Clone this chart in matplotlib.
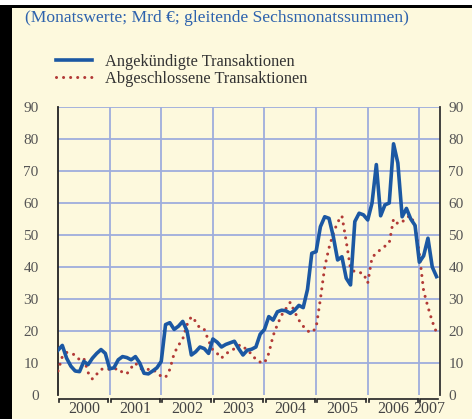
import matplotlib
matplotlib.use("Agg")
import matplotlib.pyplot as plt
import matplotlib.transforms as mtransforms
from matplotlib.patches import Rectangle
import numpy as np

# ---- data (monthly, Jan 2000 .. May 2007) ----
start_year = 2000
announced = [14, 15.5, 11.5, 9, 7.5, 7.3, 10.5, 9.5, 11.5, 13, 14.2, 13,
             8.2, 8.5, 11, 12, 11.7, 11, 12, 10, 6.8, 6.6, 7.5, 8.5,
             10.5, 22, 22.6, 20.5, 21.5, 23, 20, 12.5, 13.5, 15, 14.5, 13,
             17.5, 16.5, 15, 15.8, 16.3, 16.8, 14.5, 12.5, 14, 14.3, 15, 19,
             20.5, 24.5, 23.4, 26, 26.5, 26.3, 25.5, 26.5, 28, 27.3, 33, 44.3,
             44.8, 52.6, 55.7, 55.2, 49.5, 42.2, 43.2, 36.5, 34.4, 54.2, 56.8, 56.3,
             54.7, 60, 72, 56, 59.4, 60, 78.5, 72.5, 55.7, 58.3, 55, 53,
             41.5, 43.5, 49, 40, 37]
completed = [7.5, 12, 13.3, 13, 12.5, 11, 11.5, 7, 5, 6.5, 8, 8.3,
             8, 8, 8.3, 7, 6.6, 8.5, 10, 8.3, 8, 8, 8, 7,
             5.8, 5.5, 8, 13, 15.5, 17.5, 22, 24.5, 23, 20.8, 20.5, 17,
             14, 13, 11.5, 13, 13.5, 14.5, 15.5, 15.5, 13.6, 13, 11, 10.3,
             10, 13, 18.5, 22, 25, 27, 29, 26, 23.4, 21.5, 20, 19.5,
             21, 30, 40, 46, 50.5, 54, 56, 48, 39.5, 38.5, 38.3, 38,
             35, 43, 44.3, 45.5, 46.5, 47.5, 55, 53.5, 54, 55.5, 56, 53,
             44, 32.5, 27.5, 23, 19.5]
years = [2000, 2001, 2002, 2003, 2004, 2005, 2006, 2007]
yticks = [0, 10, 20, 30, 40, 50, 60, 70, 80, 90]
title = "(Monatswerte; Mrd €; gleitende Sechsmonatssummen)"
label_a = "Angekündigte Transaktionen"
label_c = "Abgeschlossene Transaktionen"

x = start_year + np.arange(len(announced)) / 12.0
x_end = 2007.4

# ---- style ----
bg = "#fdf9dd"
blue = "#1b58a3"
red = "#b23a36"
grid = "#9eaddc"
tickc = "#555555"
font = ["Liberation Serif", "DejaVu Serif"]
plt.rcParams["font.family"] = font

W, H = 472, 419
fig = plt.figure(figsize=(W / 100, H / 100), dpi=100, facecolor=bg)

# frame decorations
fig.patches.append(Rectangle((0, 1 - 5 / H), 1, 5 / H, transform=fig.transFigure,
                             facecolor="white", edgecolor="none", zorder=0))
fig.patches.append(Rectangle((0, 1 - 8 / H), 1, 3 / H, transform=fig.transFigure,
                             facecolor="black", edgecolor="none", zorder=0))
fig.patches.append(Rectangle((0, 0), 12 / W, 1 - 5 / H, transform=fig.transFigure,
                             facecolor="black", edgecolor="none", zorder=0))

left, right = 58 / W, 440 / W
bottom, top = 1 - 395 / H, 1 - 107 / H
ax = fig.add_axes([left, bottom, right - left, top - bottom])
ax.set_facecolor(bg)

ax.set_xlim(start_year, x_end)
ax.set_ylim(0, 90)

# grid
for yv in yticks[1:]:
    ax.axhline(yv, color=grid, lw=1.3, zorder=1)
for yr in years[1:]:
    ax.axvline(yr, color=grid, lw=1.3, zorder=1)

ln_c, = ax.plot(x, completed, color=red, lw=2.2, linestyle=(0, (0.01, 2.3)),
                dash_capstyle="round", solid_capstyle="round", zorder=3, label=label_c)
ln_a, = ax.plot(x, announced, color=blue, lw=2.6, solid_joinstyle="round", zorder=4,
                label=label_a)

# spines
for s in ["top", "bottom"]:
    ax.spines[s].set_visible(False)
ax.spines["left"].set_color("#222222")
ax.spines["left"].set_linewidth(1.3)
ax.spines["right"].set_color("#333333")
ax.spines["right"].set_linewidth(1.3)

# y ticks: left
ax.set_yticks(yticks)
ax.tick_params(axis="y", length=0, labelsize=11, labelcolor=tickc, pad=14)
ax.set_xticks([])

# y ticks: right (same scale)
ax2 = ax.twinx()
ax2.set_ylim(ax.get_ylim())
ax2.set_yticks(yticks)
ax2.tick_params(axis="y", length=0, labelsize=11, labelcolor=tickc, pad=6)
for s in ["top", "bottom", "left", "right"]:
    ax2.spines[s].set_visible(False)

# year brackets below the axis
trans = mtransforms.blended_transform_factory(ax.transData, ax.transAxes)
yb = -4 / (395 - 107)
yt = -7 / (395 - 107)
for i, yr in enumerate(years):
    a = yr + 0.02
    b = min(yr + 1, x_end) - 0.03
    ax.plot([a, a, b], [yt, yb, yb], color="#222222", lw=1.2, transform=trans,
            clip_on=False, solid_joinstyle="miter")
    if yr + 1 <= x_end:
        ax.plot([b, b], [yb, yt], color="#222222", lw=1.2, transform=trans, clip_on=False)
    ax.text((yr + min(yr + 1, x_end)) / 2, -0.05, str(yr), transform=trans,
            ha="center", va="center", fontsize=11.5, color="#444444")

# title
fig.text(25 / W, 1 - 18 / H, title, color="#2d62ad", fontsize=12.6,
         ha="left", va="center")

# legend
fig.legend(handles=[ln_a, ln_c], loc="upper left",
           bbox_to_anchor=(41 / W, 1 - 39 / H), frameon=False, fontsize=11.8,
           handlelength=2.2, handletextpad=0.8, labelspacing=0.05,
           labelcolor="#333333")

fig.savefig("out.png", dpi=100, facecolor=bg)
